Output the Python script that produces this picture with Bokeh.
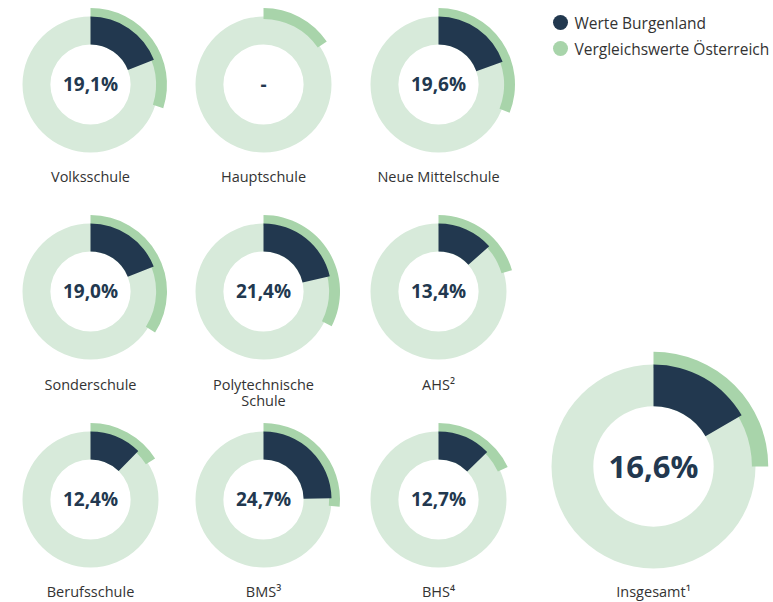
import math
from bokeh.plotting import figure
from bokeh.models import Range1d, ColumnDataSource
from bokeh.core.properties import value
from bokeh.embed import file_html
from bokeh.resources import INLINE

# ---- data ----
categories = ["Volksschule", "Hauptschule", "Neue Mittelschule",
              "Sonderschule", "Polytechnische\nSchule", "AHS²",
              "Berufsschule", "BMS³", "BHS⁴", "Insgesamt¹"]
burgenland = [19.1, None, 19.6, 19.0, 21.4, 13.4, 12.4, 24.7, 12.7, 16.6]
oesterreich = [30.0, 15.5, 31.0, 34.0, 32.5, 20.5, 16.0, 26.5, 18.0, 25.0]
legend_labels = ["Werte Burgenland", "Vergleichswerte Österreich"]

NAVY = "#22384f"
LIGHT = "#d7eada"
MID = "#a8d4aa"
FONT = "Open Sans"

W, H = 773, 602

def px(x):
    return x

def py(y):
    return H - y

# layout (page pixel positions)
col_x = [90, 263, 438]
row_y = [84, 291, 499]
centers = [(col_x[i % 3], row_y[i // 3]) for i in range(9)] + [(653, 466)]
radii = [68] * 9 + [102]
label_mid = [176] * 3 + [384] * 3 + [591] * 3 + [591]
LINE_GAP = 16

p = figure(width=W, height=H, output_backend="svg", toolbar_location=None,
           x_range=Range1d(0, W), y_range=Range1d(0, H), min_border=0)
p.axis.visible = False
p.grid.visible = False
p.outline_line_color = None
p.background_fill_color = "white"

xs = [px(c[0]) for c in centers]
ys = [py(c[1]) for c in centers]

ring = ColumnDataSource(dict(
    x=xs, y=ys,
    ir=[r * 0.59 for r in radii], orr=radii,
))
p.annulus(x="x", y="y", inner_radius="ir", outer_radius="orr",
          fill_color=LIGHT, line_color=None, source=ring)

arc = ColumnDataSource(dict(
    x=xs, y=ys,
    ir=[r * 0.965 for r in radii], orr=[r * 1.125 for r in radii],
    sa=[math.pi / 2] * 10,
    ea=[math.pi / 2 - 2 * math.pi * v / 100 for v in oesterreich],
))
p.annular_wedge(x="x", y="y", inner_radius="ir", outer_radius="orr",
                start_angle="sa", end_angle="ea", direction="clock",
                fill_color=MID, line_color=None, source=arc)

idx = [i for i, v in enumerate(burgenland) if v is not None]
wedge = ColumnDataSource(dict(
    x=[xs[i] for i in idx], y=[ys[i] for i in idx],
    ir=[radii[i] * 0.59 for i in idx], orr=[radii[i] for i in idx],
    sa=[math.pi / 2] * len(idx),
    ea=[math.pi / 2 - 2 * math.pi * burgenland[i] / 100 for i in idx],
))
p.annular_wedge(x="x", y="y", inner_radius="ir", outer_radius="orr",
                start_angle="sa", end_angle="ea", direction="clock",
                fill_color=NAVY, line_color=None, source=wedge)

# value texts
def fmt(v):
    return "-" if v is None else f"{v:.1f}".replace(".", ",") + "%"

vals = ColumnDataSource(dict(
    x=xs[:9], y=[y + 1 for y in ys[:9]], t=[fmt(v) for v in burgenland[:9]],
))
p.text(x="x", y="y", text="t", source=vals, text_font=value(FONT),
       text_font_style="bold", text_font_size="19px", text_color=NAVY,
       text_align="center", text_baseline="middle")
p.text(x=[xs[9]], y=[ys[9] + 1], text=[fmt(burgenland[9])], text_font=value(FONT),
       text_font_style="bold", text_font_size="31px", text_color=NAVY,
       text_align="center", text_baseline="middle")

# category labels (multi-line split into separate lines)
lx, ly, lt = [], [], []
for i, cat in enumerate(categories):
    for j, line in enumerate(cat.split("\n")):
        lx.append(xs[i])
        ly.append(py(label_mid[i] + j * LINE_GAP))
        lt.append(line)
labs = ColumnDataSource(dict(x=lx, y=ly, t=lt))
p.text(x="x", y="y", text="t", source=labs, text_font=value(FONT),
       text_font_size="14.5px", text_color="#333333",
       text_align="center", text_baseline="middle")

# legend
leg_y = [22, 48]
p.scatter(x=[px(560)] * 2, y=[py(v) for v in leg_y], marker="circle", size=15,
          fill_color=[NAVY, MID], line_color=None)
p.text(x=[px(574)] * 2, y=[py(v) for v in leg_y], text=legend_labels,
       text_font=value(FONT), text_font_size="15.5px", text_color="#333333",
       text_align="left", text_baseline="middle")

open("out.html", "w").write(file_html(p, INLINE))
